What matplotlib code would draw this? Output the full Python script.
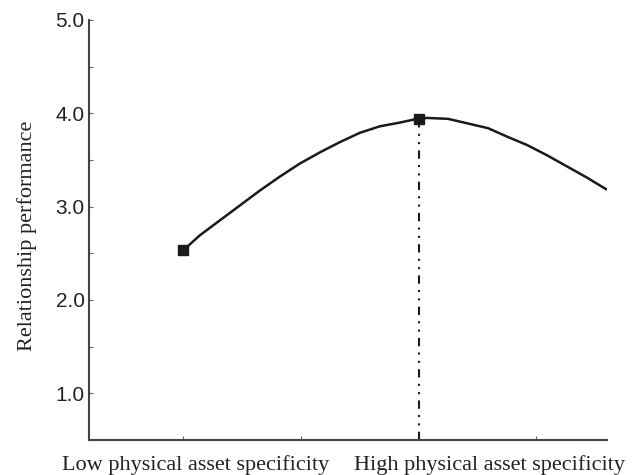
import matplotlib
matplotlib.use("Agg")
import matplotlib.pyplot as plt
from matplotlib.ticker import MultipleLocator

# curve (x: 1 = low, 3 = high asset specificity)
curve_x = [1.00, 1.14, 1.31, 1.48, 1.65, 1.82, 1.99, 2.16, 2.33, 2.50, 2.67, 2.84, 2.95,
           3.00, 3.07, 3.25, 3.42, 3.59, 3.75, 3.92, 4.09, 4.26, 4.43, 4.60]
curve_y = [2.53, 2.69, 2.85, 3.01, 3.17, 3.32, 3.46, 3.58, 3.69, 3.79, 3.86, 3.90, 3.93,
           3.94, 3.95, 3.94, 3.89, 3.84, 3.75, 3.66, 3.55, 3.43, 3.31, 3.18]

# the two marked points
point_x = [1.0, 3.0]
point_y = [2.53, 3.94]

y_ticks = [1.0, 2.0, 3.0, 4.0, 5.0]
x_labels = ["Low physical asset specificity", "High physical asset specificity"]
y_label = "Relationship performance"

fig = plt.figure(figsize=(6.35, 4.75), dpi=100)
ax = fig.add_axes([0.140, 0.074, 0.816, 0.884])

ax.plot(curve_x, curve_y, color="#1a1a1a", lw=1.8, solid_capstyle="butt")
ax.plot(point_x, point_y, ls="none", marker="s", ms=7, color="#1a1a1a")

# vertical dash-dot-dot line under the peak
ax.plot([point_x[1], point_x[1]], [0.5, point_y[1] - 0.05], color="#1a1a1a",
        lw=1.5, ls=(0, (4, 3, 1, 3, 1, 3)))

ax.set_xlim(0.2, 4.6)
ax.set_ylim(0.5, 5.0)

for s in ["top", "right"]:
    ax.spines[s].set_visible(False)
for s in ["left", "bottom"]:
    ax.spines[s].set_color("#444444")
    ax.spines[s].set_linewidth(1.5)

ax.set_yticks(y_ticks)
ax.set_yticklabels([f"{v:.1f}" for v in y_ticks], family="Liberation Sans", fontsize=15)
ax.yaxis.set_minor_locator(MultipleLocator(0.5))
ax.set_xticks([1, 2, 3, 4])
ax.set_xticklabels([])
ax.tick_params(axis="both", which="both", direction="in", length=3, width=0.8,
               color="#666666", pad=3)
ax.tick_params(axis="y", which="major", labelcolor="#222222")

ax.text((196 - 89) / 518, -0.06, x_labels[0], transform=ax.transAxes, ha="center",
        va="center", family="Liberation Serif", fontsize=16, color="#222222")
ax.text((489 - 89) / 518, -0.06, x_labels[1], transform=ax.transAxes, ha="center",
        va="center", family="Liberation Serif", fontsize=16, color="#222222")
fig.text(27 / 635, 1 - 236 / 475, y_label, rotation=90, ha="center", va="center",
         family="Liberation Serif", fontsize=16, color="#222222")

fig.savefig("out.png", dpi=100)
